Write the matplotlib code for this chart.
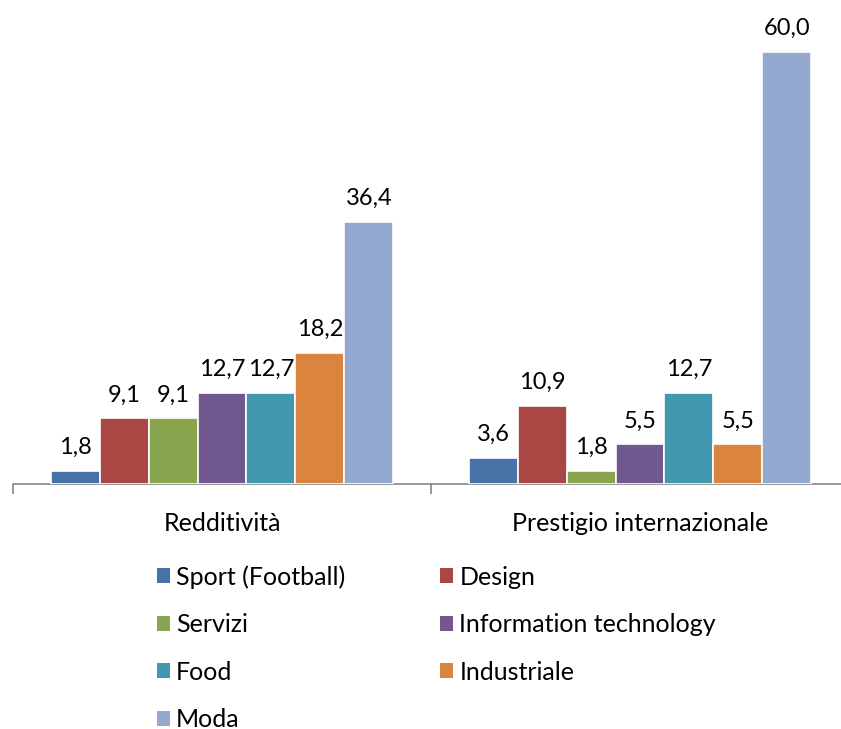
import matplotlib
matplotlib.use("Agg")
import matplotlib.pyplot as plt
import numpy as np

plt.rcParams['font.family'] = ['Lato', 'DejaVu Sans']

categories = ["Redditività", "Prestigio internazionale"]
series = ["Sport (Football)", "Design", "Servizi", "Information technology",
          "Food", "Industriale", "Moda"]
values = {
    "Sport (Football)": [1.8, 3.6],
    "Design": [9.1, 10.9],
    "Servizi": [9.1, 1.8],
    "Information technology": [12.7, 5.5],
    "Food": [12.7, 12.7],
    "Industriale": [18.2, 5.5],
    "Moda": [36.4, 60.0],
}
colors = ["#4672A8", "#AA4643", "#89A54E", "#71588F", "#4198AF", "#DB843D", "#93A9CF"]

W, H = 841, 729
FS = 17
FS_TXT = 18
fig = plt.figure(figsize=(W / 100, H / 100), dpi=100)
# plot area: baseline at y=484px, left edge at x=13px, category width 418px
ax = fig.add_axes([13 / W, 1 - 484 / H, 836 / W, 484 / H])
ax.set_xlim(-0.5, 1.5)
ax.set_ylim(0, 484 / 7.2)

x = np.arange(len(categories))
bw = 0.1172
n = len(series)
handles = []
for i, (name, col) in enumerate(zip(series, colors)):
    offs = (i - (n - 1) / 2) * bw
    bars = ax.bar(x + offs, values[name], width=bw, color=col,
                  edgecolor="white", linewidth=1.2, label=name, zorder=3)
    handles.append(bars)
    for xi, v in zip(x + offs, values[name]):
        ax.annotate(f"{v:.1f}".replace(".", ","), (xi, v), xytext=(0, 12.2),
                    textcoords="offset points", ha="center", va="baseline",
                    fontsize=FS, color="#000000")

for s in ["top", "right", "left"]:
    ax.spines[s].set_visible(False)
ax.spines["bottom"].set_color("#868686")
ax.spines["bottom"].set_linewidth(1.2)
ax.set_yticks([])
ax.set_xticks([-0.5, 0.5, 1.5])
ax.set_xticklabels([])
ax.tick_params(axis="x", length=7, width=1.2, color="#868686", direction="out")
for xi, c in zip(x, categories):
    ax.annotate(c, (xi, 0), xytext=(0, -39.5 * 0.72), textcoords="offset points",
                ha="center", va="center", fontsize=FS_TXT)

order = [0, 2, 4, 6, 1, 3, 5]
leg = fig.legend([handles[i] for i in order], [series[i] for i in order],
                 ncol=2, loc="upper left", bbox_to_anchor=(157 / W, 1 - 565 / H),
                 frameon=False, fontsize=FS_TXT, handlelength=0.52, handleheight=0.52,
                 handletextpad=0.24, columnspacing=3.8, labelspacing=0.98,
                 borderpad=0, borderaxespad=0)
for p in leg.get_patches():
    p.set_edgecolor("none")

fig.savefig("out.png", dpi=100)
